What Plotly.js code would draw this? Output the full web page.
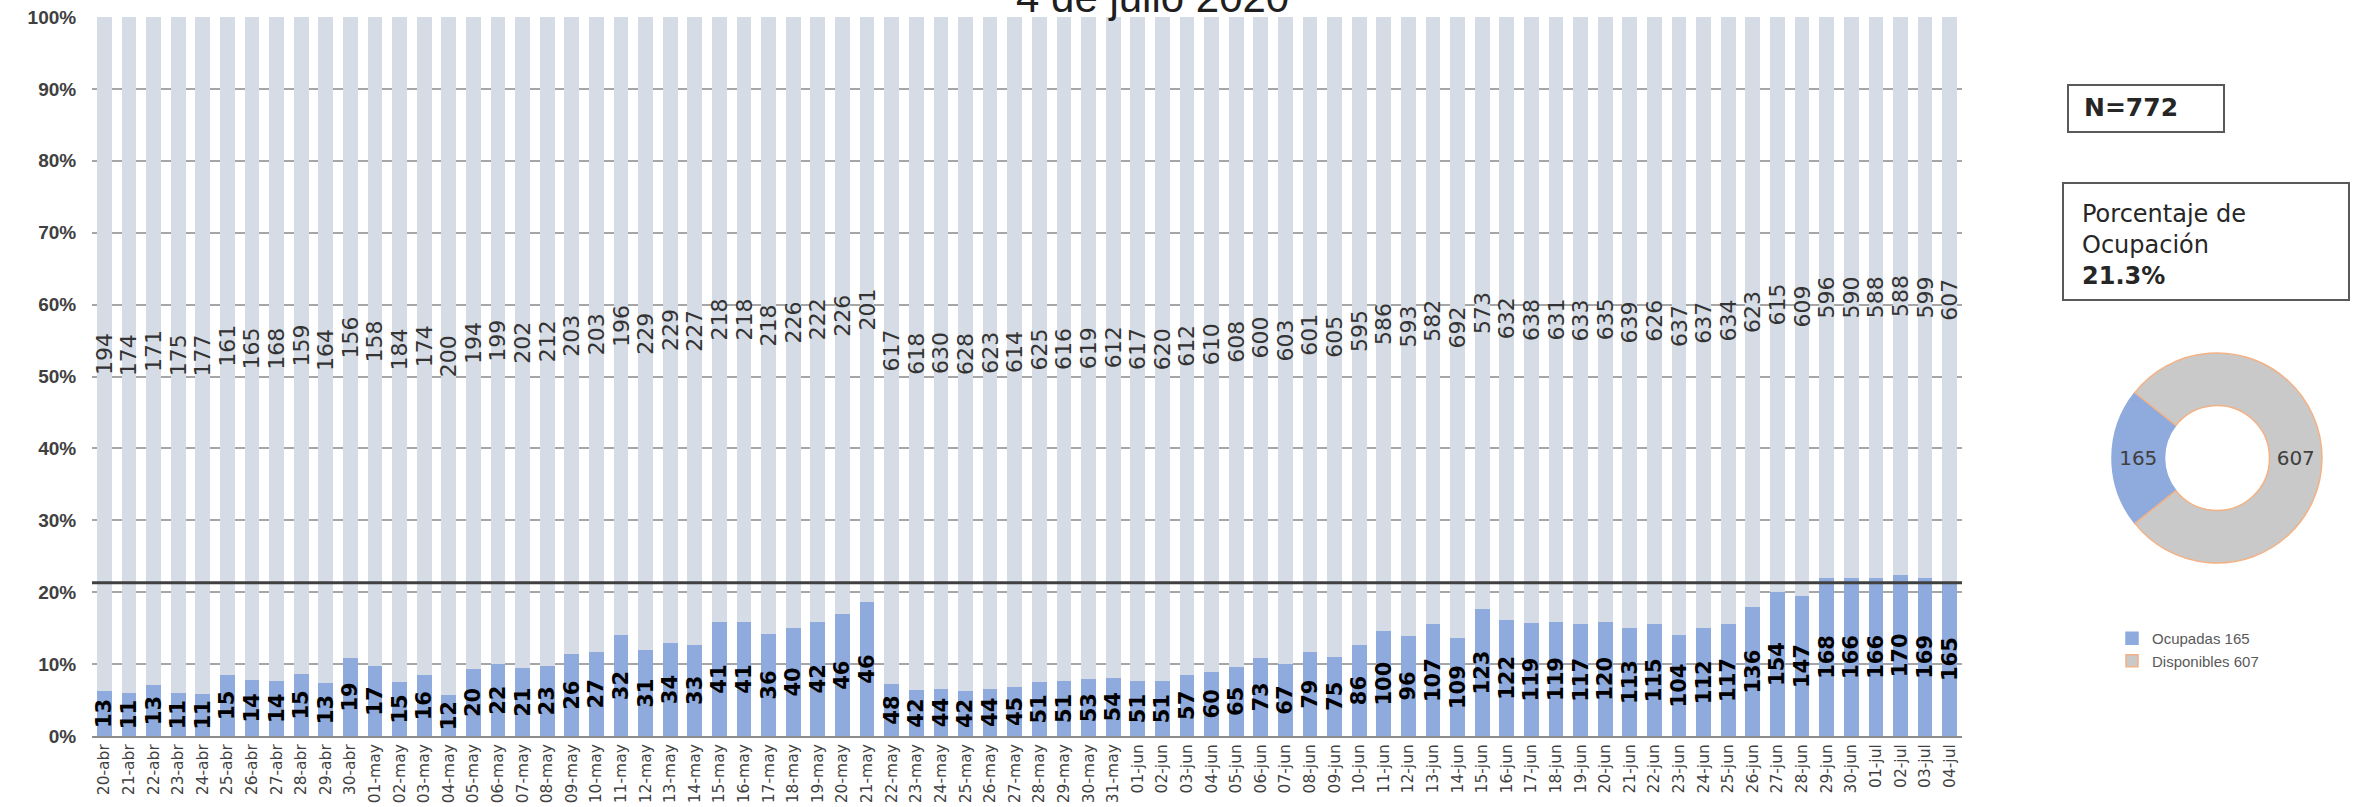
<!DOCTYPE html>
<html>
<head>
<meta charset="utf-8">
<script src="https://cdn.plot.ly/plotly-3.0.1.min.js"></script>
<style>
html,body{margin:0;padding:0;background:#ffffff;}
#chart{width:2356px;height:807px;}
</style>
</head>
<body>
<div id="chart"></div>
<script>
// ---------- DATA ----------
const fechas = [
  '20-abr','21-abr','22-abr','23-abr','24-abr','25-abr','26-abr','27-abr','28-abr','29-abr','30-abr',
  '01-may','02-may','03-may','04-may','05-may','06-may','07-may','08-may','09-may','10-may',
  '11-may','12-may','13-may','14-may','15-may','16-may','17-may','18-may','19-may','20-may',
  '21-may','22-may','23-may','24-may','25-may','26-may','27-may','28-may','29-may','30-may','31-may',
  '01-jun','02-jun','03-jun','04-jun','05-jun','06-jun','07-jun','08-jun','09-jun','10-jun',
  '11-jun','12-jun','13-jun','14-jun','15-jun','16-jun','17-jun','18-jun','19-jun','20-jun',
  '21-jun','22-jun','23-jun','24-jun','25-jun','26-jun','27-jun','28-jun','29-jun','30-jun',
  '01-jul','02-jul','03-jul','04-jul'
];
const ocupadas = [
  13,11,13,11,11,15,14,14,15,13,19,
  17,15,16,12,20,22,21,23,26,27,
  32,31,34,33,41,41,36,40,42,46,
  46,48,42,44,42,44,45,51,51,53,54,
  51,51,57,60,65,73,67,79,75,86,
  100,96,107,109,123,122,119,119,117,120,
  113,115,104,112,117,136,154,147,168,166,
  166,170,169,165
];
const disponibles = [
  194,174,171,175,177,161,165,168,159,164,156,
  158,184,174,200,194,199,202,212,203,203,
  196,229,229,227,218,218,218,226,222,226,
  201,617,618,630,628,623,614,625,616,619,612,
  617,620,612,610,608,600,603,601,605,595,
  586,593,582,692,573,632,638,631,633,635,
  639,626,637,637,634,623,615,609,596,590,
  588,588,599,607
];
const yTicks = [0,10,20,30,40,50,60,70,80,90,100];
const tituloTexto = '4 de julio 2020';
const totalCamas = 772;
const porcentajeOcupacion = 21.3;
const donutNombres = ['Ocupadas', 'Disponibles'];
const donutValores = [165, 607];

// ---------- LAYOUT CONSTANTS ----------
const W = 2356, H = 807;
const M = {l: 92, r: 10, t: 17, b: 71};
const PW = W - M.l - M.r, PH = H - M.t - M.b;
const px = x => (x - M.l) / PW;
const py = y => (H - M.b - y) / PH;

const FONT_NUM = 'DejaVu Sans, Verdana, sans-serif';
const FONT = 'Liberation Sans, Arial, sans-serif';
const FONT_BOX = 'DejaVu Sans, Verdana, sans-serif';

const cBlue = '#8FAADC', cAvail = '#D6DCE5';

const traceOcup = {
  type: 'bar', x: fechas, y: ocupadas, name: 'Ocupadas',
  text: ocupadas, textposition: 'inside', insidetextanchor: 'middle',
  textangle: -90, constraintext: 'none',
  textfont: {family: FONT_NUM, size: 21, color: '#000000', weight: 'bold'},
  marker: {color: cBlue}, showlegend: false, hoverinfo: 'x+text'
};
const traceDisp = {
  type: 'bar', x: fechas, y: disponibles, name: 'Disponibles',
  text: disponibles, textposition: 'inside', insidetextanchor: 'middle',
  textangle: -90, constraintext: 'none',
  textfont: {family: FONT_NUM, size: 22, color: '#333333'},
  marker: {color: cAvail}, showlegend: false, hoverinfo: 'x+text'
};
const pieCx = 2217, pieCy = 458, pieD = 210;
const traceDonut = {
  type: 'pie', values: donutValores,
  labels: donutNombres.map((n, i) => n + ' ' + donutValores[i]),
  text: donutValores.map(String), textinfo: 'text', textposition: 'inside',
  insidetextorientation: 'horizontal',
  textfont: {family: FONT_BOX, size: 20, color: '#404040'},
  hole: 0.5, sort: false, direction: 'clockwise', rotation: 231.5,
  marker: {colors: [cBlue, '#C9C9C9'], line: {color: [cBlue, '#F4B183'], width: 1.5}},
  domain: {x: [px(pieCx - pieD/2), px(pieCx + pieD/2)], y: [py(pieCy + pieD/2), py(pieCy - pieD/2)]},
  showlegend: true, hoverinfo: 'label+percent'
};

const layout = {
  width: W, height: H,
  margin: M,
  paper_bgcolor: '#ffffff', plot_bgcolor: '#ffffff',
  barmode: 'stack', barnorm: 'percent', bargap: 0.4,
  showlegend: true,
  legend: {
    x: px(2112), y: py(622), xanchor: 'left', yanchor: 'top', traceorder: 'normal',
    font: {family: FONT, size: 15, color: '#595959'},
    bgcolor: 'rgba(0,0,0,0)', itemclick: false, itemdoubleclick: false
  },
  xaxis: {
    domain: [0, px(1962)],
    type: 'category', tickmode: 'array', tickvals: fechas, ticktext: fechas,
    tickangle: -90, tickfont: {family: 'DejaVu Sans, Verdana, sans-serif', size: 15.5, color: '#404040'},
    showline: true, linecolor: '#8C8C8C', linewidth: 2,
    showgrid: false, ticks: '', fixedrange: true
  },
  yaxis: {
    range: [0, 100], tickmode: 'array', tickvals: yTicks,
    ticktext: yTicks.map(v => v + '%'),
    tickfont: {family: FONT, size: 19, color: '#404040', weight: 'bold'},
    showgrid: true, gridcolor: '#A6A6A6', gridwidth: 2,
    zeroline: false, showline: false,
    ticks: 'outside', ticklen: 11, tickcolor: 'rgba(0,0,0,0)', fixedrange: true
  },
  shapes: [
    {type: 'line', xref: 'x domain', yref: 'y', x0: 0, x1: 1, y0: porcentajeOcupacion, y1: porcentajeOcupacion,
     line: {color: '#404040', width: 3}},
    {type: 'rect', xref: 'paper', yref: 'paper', x0: px(2068), x1: px(2224), y0: py(132), y1: py(85),
     line: {color: '#595959', width: 2}, fillcolor: 'rgba(0,0,0,0)'},
    {type: 'rect', xref: 'paper', yref: 'paper', x0: px(2063), x1: px(2349), y0: py(300), y1: py(183),
     line: {color: '#595959', width: 2}, fillcolor: 'rgba(0,0,0,0)'}
  ],
  annotations: [
    {xref: 'paper', yref: 'paper', x: px(1152), y: py(-2), xanchor: 'center', yanchor: 'middle',
     text: tituloTexto, showarrow: false, font: {family: FONT, size: 42, color: '#1F1F1F'}},
    {xref: 'paper', yref: 'paper', x: px(2082), y: py(108), xanchor: 'left', yanchor: 'middle',
     text: '<b>N=' + totalCamas + '</b>', showarrow: false, font: {family: FONT_BOX, size: 25, color: '#262626'}},
    {xref: 'paper', yref: 'paper', x: px(2080), y: py(245), xanchor: 'left', yanchor: 'middle', align: 'left',
     text: 'Porcentaje de<br>Ocupación<br><b>' + porcentajeOcupacion.toFixed(1) + '%</b>', showarrow: false,
     font: {family: FONT_BOX, size: 24, color: '#262626'}}
  ]
};

Plotly.newPlot('chart', [traceOcup, traceDisp, traceDonut], layout, {displayModeBar: false, staticPlot: true});
</script>
</body>
</html>
